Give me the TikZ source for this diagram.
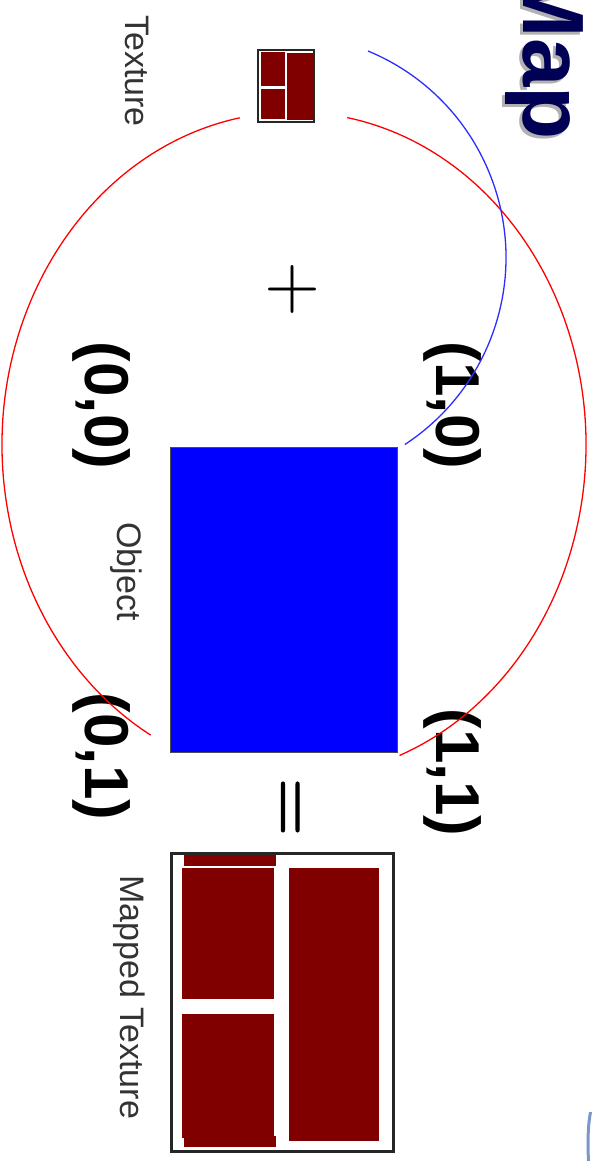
\documentclass[tikz,border=0pt]{standalone}
\usepackage{fontspec}
\newfontfamily\arialike{Liberation Sans}
\newfontfamily\symfont{lmroman10-regular.otf}
\newfontfamily\symfontheavy[FakeBold=1.6]{lmroman10-regular.otf}
\definecolor{navytitle}{RGB}{0,0,85}
\definecolor{shadowgray}{RGB}{178,178,178}
\definecolor{texred}{RGB}{128,0,0}
\definecolor{pathred}{RGB}{255,0,0}
\definecolor{pathblue}{RGB}{45,45,255}
\definecolor{logoblue}{RGB}{125,150,200}
\begin{document}
\begin{tikzpicture}[x=1pt,y=1pt,
  coordlabel/.style={rotate=-90, inner sep=0pt, outer sep=0pt, anchor=center,
    font=\arialike\bfseries\fontsize{62}{62}\selectfont},
  caption/.style={rotate=-90, inner sep=0pt, anchor=base west, text=black!80,
    font=\arialike\fontsize{34}{34}\selectfont},
  titletext/.style={rotate=-90, inner sep=0pt, anchor=base east,
    font=\arialike\bfseries\fontsize{87}{87}\selectfont},
  opsign/.style={rotate=-90, inner sep=0pt, anchor=base},
  redpath/.style={draw=pathred, line width=1.3pt},
  bluepath/.style={draw=pathblue, line width=1.3pt},
  tile/.style={fill=texred},
  frame/.style={draw=black!85, fill=white, inner sep=0pt, outer sep=0pt}
]
\useasboundingbox (0,0) rectangle (592,-1161);

% title, with its drop shadow
\node[titletext, text=shadowgray] (titleshadow) at (520,-143) {Map};
\node[titletext, text=navytitle] (title) at (523,-140) {Map};

% small texture swatch
\node[frame, line width=2.2pt, minimum width=56pt, minimum height=72pt] (texture) at (286,-86) {};
\fill[tile] (261,-52) rectangle (284.5,-86.5);
\fill[tile] (261,-89) rectangle (284.5,-119.5);
\fill[tile] (286.5,-53.5) rectangle (312.5,-120);
\node[caption] (texlabel) at (125,-15) {Texture};

% plus sign
\node[opsign, font=\symfont\fontsize{72}{72}\selectfont] (plus) at (274,-290) {+};

% object
\node[draw=black!70, line width=1pt, fill=blue, inner sep=0pt, outer sep=0pt,
      minimum width=227pt, minimum height=305pt] (object) at (283.5,-599.5) {};
\node[caption] (objlabel) at (117,-522) {Object};

% corner coordinates
\node[coordlabel] (c10) at (452.5,-405.5) {(1,0)};
\node[coordlabel] (c00) at (102,-405.5) {(0,0)};
\node[coordlabel] (c01) at (102,-756.5) {(0,1)};
\node[coordlabel] (c11) at (452.5,-772.5) {(1,1)};

% equals sign
\node[opsign, font=\symfontheavy\fontsize{75}{75}\selectfont] (equals) at (271.5,-807) {=};

% mapped texture
\node[frame, line width=3.3pt, minimum width=221.6pt, minimum height=297.6pt] (mapped) at (282.5,-1002.5) {};
\fill[tile] (184,-855) rectangle (276,-866);
\fill[tile] (182,-868) rectangle (274,-999);
\fill[tile] (182,-1014) rectangle (274,-1138);
\fill[tile] (184,-1136) rectangle (276,-1147);
\fill[tile] (289,-868) rectangle (379,-1141);
\node[caption] (maplabel) at (120,-875) {Mapped Texture};

% mapping arcs
\coordinate (redLstart) at (239.8,-117.8);
\coordinate (redRstart) at (347.2,-117.6);
\coordinate (blueStart) at (368,-51);
\draw[redpath] (redLstart) arc[start angle=100.7, end angle=240.6, x radius=292pt, y radius=333pt];
\draw[redpath] (redRstart) arc[start angle=79.5, end angle=-68.8, x radius=292pt, y radius=333pt];
\draw[bluepath] (blueStart) arc[start angle=67.5, end angle=-56.8, radius=223.5pt];

% edge of the logo at the lower right
\coordinate (logoA) at (590.5,-1112);
\coordinate (logoB) at (588.5,-1161);
\draw[logoblue, line width=3pt] (logoA) .. controls (588,-1125) and (587.5,-1142) .. (logoB);
\end{tikzpicture}
\end{document}
